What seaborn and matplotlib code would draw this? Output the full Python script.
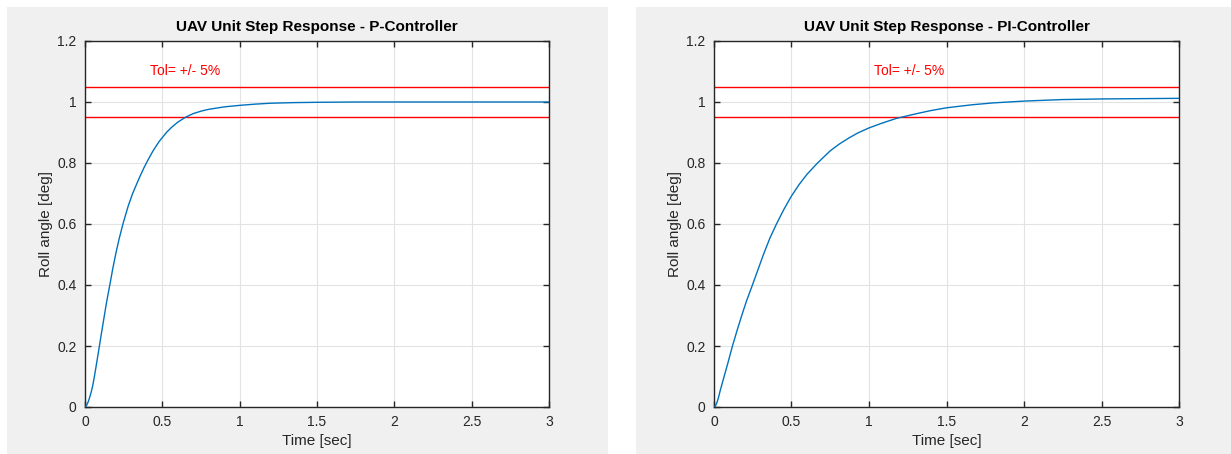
import numpy as np
import pandas as pd
import matplotlib
matplotlib.use("Agg")
import matplotlib.pyplot as plt
from matplotlib.patches import Rectangle
import seaborn as sns

# ---- data ----
t_p = [0, 0.01, 0.02, 0.03, 0.04, 0.05, 0.06, 0.07, 0.08, 0.09, 0.1, 0.12, 0.14,
       0.164, 0.18, 0.2, 0.22, 0.248, 0.28, 0.308, 0.35, 0.38, 0.405, 0.44, 0.48,
       0.528, 0.56, 0.6, 0.653, 0.7, 0.75, 0.8, 0.9, 1.0, 1.1, 1.2, 1.35, 1.5,
       1.75, 2.0, 2.5, 3.0]
y_p = [0, 0.005, 0.016, 0.031, 0.049, 0.07, 0.098, 0.128, 0.159, 0.19, 0.222, 0.284, 0.345,
       0.41, 0.455, 0.505, 0.55, 0.605, 0.66, 0.70, 0.75, 0.783, 0.808, 0.84, 0.871,
       0.901, 0.917, 0.934, 0.951, 0.962, 0.970, 0.976, 0.984, 0.989, 0.993, 0.996, 0.998, 0.999,
       1.0, 1.0, 1.0, 1.0]

t_pi = [0, 0.01, 0.02, 0.03, 0.039, 0.05, 0.069, 0.09, 0.118, 0.15, 0.179, 0.21, 0.248,
        0.28, 0.319, 0.36, 0.403, 0.45, 0.5, 0.55, 0.6, 0.668, 0.75, 0.808, 0.87, 0.93,
        1.0, 1.08, 1.175, 1.3, 1.4, 1.5, 1.667, 1.8, 2.0, 2.25, 2.5, 2.75, 3.0]
y_pi = [0, 0.004, 0.016, 0.033, 0.052, 0.072, 0.107, 0.145, 0.198, 0.253, 0.3, 0.348, 0.4,
        0.445, 0.5, 0.553, 0.6, 0.647, 0.692, 0.73, 0.763, 0.8, 0.84, 0.862, 0.882, 0.899,
        0.915, 0.93, 0.946, 0.961, 0.972, 0.981, 0.991, 0.997, 1.003, 1.008, 1.010, 1.011, 1.012]

tol_upper = 1.05
tol_lower = 0.95
tol_label = "Tol= +/- 5%"
tol_pos_p = (0.42, 1.10)
tol_pos_pi = (1.03, 1.10)

titles = ["UAV Unit Step Response - P-Controller", "UAV Unit Step Response - PI-Controller"]
xlabel = "Time [sec]"
ylabel = "Roll angle [deg]"
xticks = [0, 0.5, 1, 1.5, 2, 2.5, 3]
xticklabels = ["0", "0.5", "1", "1.5", "2", "2.5", "3"]
yticks = [0, 0.2, 0.4, 0.6, 0.8, 1.0, 1.2]
yticklabels = ["0", "0.2", "0.4", "0.6", "0.8", "1", "1.2"]

sns.set_theme(style="white")
plt.rcParams['font.family'] = ['Liberation Sans', 'DejaVu Sans']

W, H = 1231, 454
fig = plt.figure(figsize=(W / 100, H / 100), dpi=100)
fig.patch.set_facecolor("white")

# gray panels (MATLAB figure backgrounds)
for (x0, x1) in [(7, 608), (636, 1231)]:
    fig.patches.append(Rectangle((x0 / W, 0), (x1 - x0) / W, (H - 7) / H,
                                 transform=fig.transFigure, facecolor="#f0f0f0",
                                 edgecolor="none", zorder=-10))

axes_px = [(85, 549), (714, 1179)]
top_px, bot_px = 41, 407

datasets = [(t_p, y_p, tol_pos_p), (t_pi, y_pi, tol_pos_pi)]
for i, ((x0, x1), (tt, yy, tpos)) in enumerate(zip(axes_px, datasets)):
    ax = fig.add_axes([x0 / W, (H - bot_px) / H, (x1 - x0) / W, (bot_px - top_px) / H])
    ax.set_facecolor("white")
    df = pd.DataFrame({"t": tt, "y": yy})
    sns.lineplot(data=df, x="t", y="y", ax=ax, color="#0072BD", linewidth=1.0, zorder=3)
    ax.axhline(tol_upper, color="#FF0000", linewidth=1.0, zorder=2)
    ax.axhline(tol_lower, color="#FF0000", linewidth=1.0, zorder=2)
    ax.text(tpos[0], tpos[1], tol_label, color="#FF0000", fontsize=10, ha="left", va="center")
    ax.set_xlim(0, 3)
    ax.set_ylim(0, 1.2)
    ax.set_xticks(xticks)
    ax.set_xticklabels(xticklabels)
    ax.set_yticks(yticks)
    ax.set_yticklabels(yticklabels)
    ax.grid(True, color="#e3e3e3", linewidth=0.8)
    ax.set_axisbelow(True)
    for s in ax.spines.values():
        s.set_visible(True)
        s.set_color("#262626")
        s.set_linewidth(1.0)
    ax.tick_params(direction="in", length=4, width=1, color="#262626",
                   labelcolor="#262626", labelsize=10, top=True, right=True,
                   bottom=True, left=True, pad=6)
    ax.set_xlabel(xlabel, fontsize=11, color="#262626", labelpad=3)
    ax.set_ylabel(ylabel, fontsize=11, color="#262626", labelpad=3)
    ax.set_title(titles[i], fontsize=11, fontweight="bold", color="black", pad=7)

fig.savefig("out.png", dpi=100, facecolor=fig.get_facecolor())
